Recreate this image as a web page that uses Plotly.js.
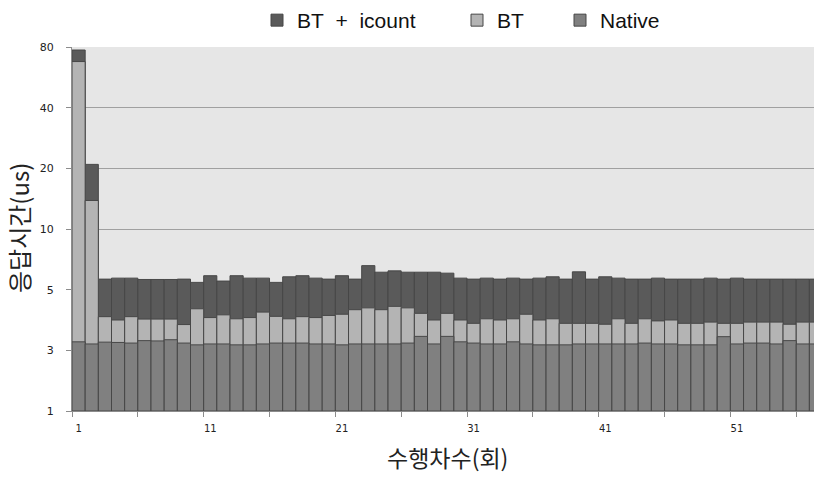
<!DOCTYPE html>
<html>
<head>
<meta charset="utf-8">
<script src="https://cdn.plot.ly/plotly-3.0.1.min.js"></script>
<style>html,body{margin:0;padding:0;background:#fff;}#chart{width:814px;height:477px;}</style>
</head>
<body>
<div id="chart"></div>
<script>
// Run index (수행차수)
const runs = [];
for (let i = 1; i <= 57; i++) runs.push(i);

// Response time (us) of each configuration
const icountTimes = [78.0, 21.3, 5.87, 5.95, 5.95, 5.84, 5.84, 5.84, 5.87, 5.60,
  6.15, 5.71, 6.15, 5.95, 5.95, 5.60, 6.06, 6.15, 5.95, 5.87,
  6.15, 5.87, 6.98, 6.44, 6.55, 6.44, 6.44, 6.44, 6.36, 5.95,
  5.87, 5.95, 5.87, 5.95, 5.87, 5.95, 6.06, 5.87, 6.47, 5.87,
  6.06, 5.95, 5.87, 5.87, 5.95, 5.87, 5.87, 5.87, 5.95, 5.87,
  5.95, 5.87, 5.87, 5.87, 5.87, 5.87, 5.87];
const btTimes = [70.4, 14.7, 4.11, 4.00, 4.11, 4.03, 4.03, 4.03, 3.85, 4.37,
  4.08, 4.17, 4.04, 4.08, 4.26, 4.12, 4.04, 4.11, 4.08, 4.15,
  4.19, 4.34, 4.40, 4.34, 4.45, 4.40, 4.22, 4.00, 4.22, 4.00,
  3.89, 4.04, 4.00, 4.04, 4.19, 4.00, 4.04, 3.89, 3.89, 3.89,
  3.86, 4.04, 3.89, 4.04, 3.97, 4.00, 3.89, 3.89, 3.93, 3.89,
  3.89, 3.93, 3.93, 3.93, 3.86, 3.93, 3.93];
const nativeTimes = [3.28, 3.21, 3.27, 3.26, 3.24, 3.32, 3.31, 3.35, 3.24, 3.18,
  3.21, 3.21, 3.18, 3.18, 3.21, 3.24, 3.24, 3.24, 3.21, 3.21,
  3.18, 3.21, 3.21, 3.21, 3.21, 3.24, 3.46, 3.21, 3.46, 3.28,
  3.24, 3.21, 3.21, 3.28, 3.21, 3.18, 3.18, 3.18, 3.21, 3.21,
  3.21, 3.21, 3.21, 3.24, 3.21, 3.21, 3.18, 3.18, 3.18, 3.45,
  3.21, 3.24, 3.24, 3.21, 3.32, 3.21, 3.21];

// Axis tick labels (equally spaced on the chart)
const yTickLabels = [1, 3, 5, 10, 20, 40, 80];
const xTickLabels = [1, 11, 21, 31, 41, 51];
const seriesNames = ['BT\u00a0\u00a0+\u00a0\u00a0icount', 'BT', 'Native'];

// map a value in us onto the equally spaced tick scale
function toScale(v) {
  for (let i = 0; i < yTickLabels.length - 1; i++) {
    const a = yTickLabels[i], b = yTickLabels[i + 1];
    if (v <= b || i === yTickLabels.length - 2) return i + (v - a) / (b - a);
  }
}

const lineStyle = {color: '#474747', width: 1};
const traces = [
  {type: 'bar', name: seriesNames[0], x: runs, y: icountTimes.map(toScale),
   marker: {color: '#5a5a5a', line: lineStyle}, legend: 'legend', hoverinfo: 'skip'},
  {type: 'bar', name: seriesNames[1], x: runs, y: btTimes.map(toScale),
   marker: {color: '#b4b4b4', line: lineStyle}, legend: 'legend2', hoverinfo: 'skip'},
  {type: 'bar', name: seriesNames[2], x: runs, y: nativeTimes.map(toScale),
   marker: {color: '#808080', line: lineStyle}, legend: 'legend3', hoverinfo: 'skip'}
];

const legFont = {family: 'Liberation Sans, Arial, sans-serif', size: 21, color: '#111'};
function leg(px) {
  return {x: (px - 72) / 742, y: 1 + (43 - 16) / 368, xanchor: 'left', yanchor: 'middle',
    orientation: 'h', font: legFont, bgcolor: 'rgba(0,0,0,0)', borderwidth: 0};
}

const minorVals = [];
for (let v = 0.5; v < 57; v += 5) minorVals.push(v);

const layout = {
  width: 814, height: 477,
  margin: {l: 72, r: 0, t: 43, b: 66, pad: 0},
  paper_bgcolor: '#ffffff', plot_bgcolor: '#e6e6e6',
  barmode: 'overlay', bargap: 0,
  showlegend: true,
  legend: leg(257), legend2: leg(457), legend3: leg(560),
  xaxis: {
    range: [0.5, 56.85], tickmode: 'array', tickvals: xTickLabels,
    ticktext: xTickLabels.map(String), ticks: '', showgrid: false, zeroline: false,
    showline: true, linecolor: '#8c8c8c', linewidth: 1,
    tickfont: {family: 'DejaVu Sans, sans-serif', size: 10, color: '#222'},
    ticklabelstandoff: 8,
    minor: {tickmode: 'array', tickvals: minorVals, ticks: 'outside', ticklen: 5,
      tickcolor: '#8c8c8c', tickwidth: 1, showgrid: false}
  },
  yaxis: {
    range: [0, 6], tickmode: 'array', tickvals: yTickLabels.map((v, i) => i),
    ticktext: yTickLabels.map(String), ticks: 'outside', ticklen: 5, tickcolor: '#8c8c8c',
    showgrid: true, gridcolor: '#a0a0a0', gridwidth: 1, zeroline: false,
    showline: true, linecolor: '#8c8c8c', linewidth: 1,
    tickfont: {family: 'DejaVu Sans, sans-serif', size: 11, color: '#222'},
    ticklabelstandoff: 10
  },
  annotations: [
    {text: '응답시간(us)', textangle: -90, xref: 'paper', yref: 'paper',
     x: (18 - 72) / 742, y: (411 - 226) / 368, xanchor: 'center', yanchor: 'middle', showarrow: false,
     font: {family: 'Noto Sans CJK KR, sans-serif', size: 24, color: '#222'}},
    {text: '수행차수(회)', xref: 'paper', yref: 'paper',
     x: (447 - 72) / 742, y: (411 - 458) / 368, xanchor: 'center', yanchor: 'middle', showarrow: false,
     font: {family: 'Noto Sans CJK KR, sans-serif', size: 23, color: '#222'}}
  ]
};

Plotly.newPlot('chart', traces, layout, {displayModeBar: false, staticPlot: true});
</script>
</body>
</html>
